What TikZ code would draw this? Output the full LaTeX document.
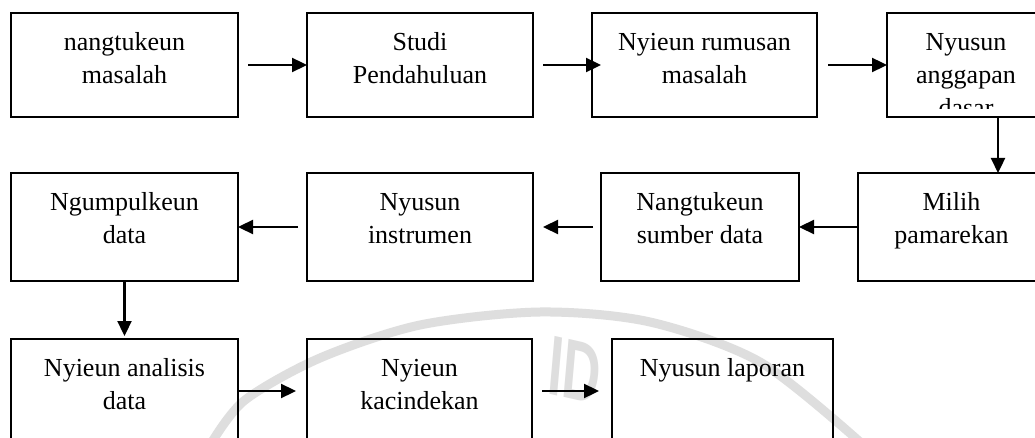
\documentclass[tikz,border=0pt]{standalone}
\usepackage{fontspec}
\setmainfont{Liberation Serif}
\newfontfamily\wmfont{Liberation Sans}
\usetikzlibrary{arrows.meta}
\tikzset{
  box/.style={draw, line width=1.8pt, inner sep=0pt, outer sep=0pt, anchor=north west},
  txt/.style={anchor=north, align=center, inner sep=0pt, font=\fontsize{26}{33}\selectfont},
  arr/.style={line width=2.3pt, -{Triangle[length=15pt,width=14pt]}},
  wm/.style={draw=black!13, line width=9pt, line cap=round}
}
\begin{document}
\begin{tikzpicture}[x=1pt,y=-1pt]
\useasboundingbox[fill=white] (0,0) rectangle (1035,438);
% watermark
\draw[wm] plot[smooth] coordinates {(212,442) (245,400) (320,358) (420,325) (540,312) (650,322) (760,362) (860,442)};
\node[text=black!13, font=\wmfont\bfseries\fontsize{85}{85}\selectfont, xscale=0.62, rotate=-8, inner sep=0pt] (wmtext) at (575,370) {ID};
% row 1
\node[box, minimum width=227pt, minimum height=104pt] (A) at (11,13) {};
\node[box, minimum width=226pt, minimum height=104pt] (B) at (307,13) {};
\node[box, minimum width=225pt, minimum height=104pt] (C) at (592,13) {};
\node[box, minimum width=158pt, minimum height=104pt] (D) at (887,13) {};
% row 2
\node[box, minimum width=227pt, minimum height=108pt] (E) at (11,173) {};
\node[box, minimum width=226pt, minimum height=108pt] (F) at (307,173) {};
\node[box, minimum width=198pt, minimum height=108pt] (G) at (601,173) {};
\node[box, minimum width=187pt, minimum height=108pt] (H) at (858,173) {};
% row 3
\node[box, minimum width=227pt, minimum height=104pt] (I) at (11,339) {};
\node[box, minimum width=225pt, minimum height=104pt] (J) at (307,339) {};
\node[box, minimum width=221pt, minimum height=104pt] (K) at (612,339) {};
% texts
\node[txt] (At) at ([yshift=-13.9pt]A.north) {\strut nangtukeun\\\strut masalah};
\node[txt] (Bt) at ([yshift=-13.9pt]B.north) {\strut Studi\\\strut Pendahuluan};
\node[txt] (Ct) at ([yshift=-13.9pt]C.north) {\strut Nyieun rumusan\\\strut masalah};
\begin{scope}
\clip (887,13) rectangle (1045,108.5);
\node[txt] (Dt) at ([yshift=-13.9pt]D.north) {\strut Nyusun\\\strut anggapan\\\strut dasar};
\end{scope}
\node[txt] (Et) at ([yshift=-13.9pt]E.north) {\strut Ngumpulkeun\\\strut data};
\node[txt] (Ft) at ([yshift=-13.9pt]F.north) {\strut Nyusun\\\strut instrumen};
\node[txt] (Gt) at ([yshift=-13.9pt]G.north) {\strut Nangtukeun\\\strut sumber data};
\node[txt] (Ht) at ([yshift=-13.9pt]H.north) {\strut Milih\\\strut pamarekan};
\node[txt] (It) at ([yshift=-13.9pt]I.north) {\strut Nyieun analisis\\\strut data};
\node[txt] (Jt) at ([yshift=-13.9pt]J.north) {\strut Nyieun\\\strut kacindekan};
\node[txt] (Kt) at ([yshift=-13.9pt]K.north) {\strut Nyusun laporan};
% arrows
\coordinate (dh) at (998,0);
\draw[arr] ([xshift=10pt]A.east) -- (B.west);
\draw[arr] ([xshift=10pt]B.east) -- ([xshift=9pt]C.west);
\draw[arr] ([xshift=11pt]C.east) -- (D.west);
\draw[arr] (D.south -| dh) -- (H.north -| dh);
\draw[arr] (H.west) -- (G.east);
\draw[arr] ([xshift=-8pt]G.west) -- ([xshift=10pt]F.east);
\draw[arr] ([xshift=-9pt]F.west) -- (E.east);
\draw[arr] (E.south) -- ([yshift=3pt]I.north);
\draw[arr] (I.east) -- ([xshift=-11pt]J.west);
\draw[arr] ([xshift=10pt]J.east) -- ([xshift=-13pt]K.west);
\end{tikzpicture}
\end{document}
